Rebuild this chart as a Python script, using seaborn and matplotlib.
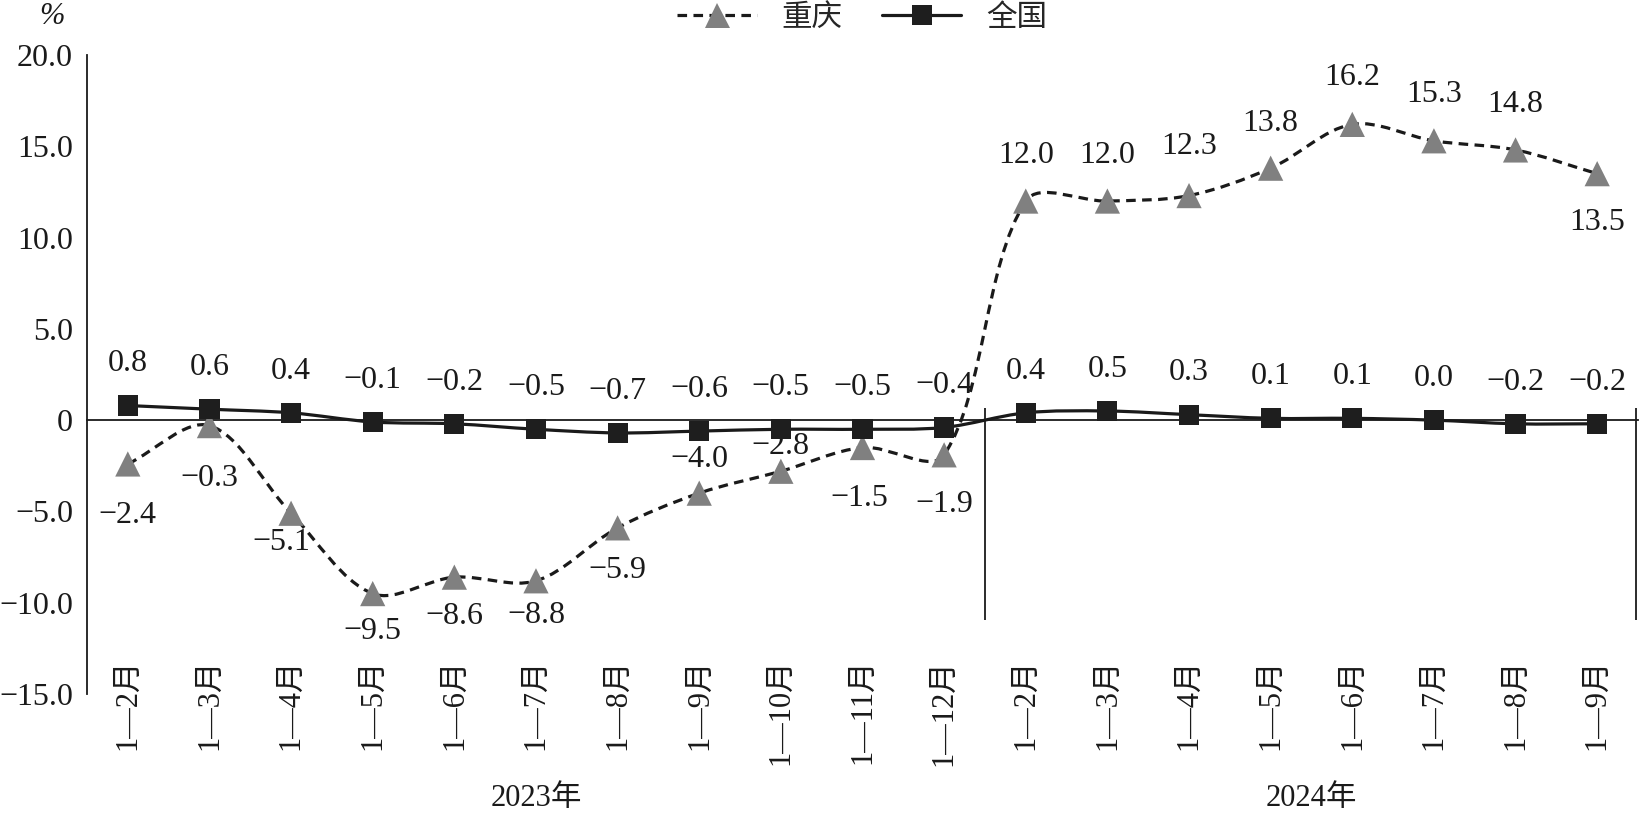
import matplotlib
matplotlib.use("Agg")
import matplotlib.pyplot as plt
import seaborn as sns
import pandas as pd
import numpy as np
from matplotlib.path import Path
from matplotlib.patches import PathPatch
from matplotlib.lines import Line2D
from matplotlib.transforms import blended_transform_factory

# data
months = ["1—2月", "1—3月", "1—4月", "1—5月", "1—6月", "1—7月", "1—8月", "1—9月",
          "1—10月", "1—11月", "1—12月",
          "1—2月", "1—3月", "1—4月", "1—5月", "1—6月", "1—7月", "1—8月", "1—9月"]
years = ["2023年", "2024年"]
chongqing = [-2.4, -0.3, -5.1, -9.5, -8.6, -8.8, -5.9, -4.0, -2.8, -1.5, -1.9,
             12.0, 12.0, 12.3, 13.8, 16.2, 15.3, 14.8, 13.5]
national = [0.8, 0.6, 0.4, -0.1, -0.2, -0.5, -0.7, -0.6, -0.5, -0.5, -0.4,
            0.4, 0.5, 0.3, 0.1, 0.1, 0.0, -0.2, -0.2]
yticks = [20, 15, 10, 5, 0, -5, -10, -15]

# label offsets in points (layout only)
cq_dy = [-37, -38, -21, -27, -28, -25, -31, 24, 18, -37, -36, 33, 33, 35, 32, 34, 33, 33, -35]
cq_dx = [0, 0, -7, 0, 0, 0, 0, 0, 0, -2, 0, 0, 0, 0, 0, 0, 0, 0, 0]
nat_dy = 30

sns.set_style("white")
plt.rcParams['font.family'] = ['Liberation Serif', 'Noto Sans CJK SC']
plt.rcParams['axes.unicode_minus'] = True

x = np.arange(len(months))
df = pd.DataFrame({"x": np.concatenate([x, x]),
                   "value": chongqing + national,
                   "series": ["重庆"] * len(x) + ["全国"] * len(x)})

fig = plt.figure(figsize=(16.39, 8.15), dpi=100)
ax = fig.add_axes([87 / 1639, 1 - 694 / 815, 1551 / 1639, 639 / 815])
ax.set_xlim(-0.5, 18.5)
ax.set_ylim(-15, 20)

# pixel size of one data unit, so the smoothing behaves like a spreadsheet curve
SX = 1551 / 19.0
SY = 639 / 35.0


def smooth_path(xs, ys, f=1 / 3):
    # cardinal-like spline with tangents split by neighbouring segment lengths
    pts = np.column_stack([np.asarray(xs, float) * SX, np.asarray(ys, float) * SY])
    n = len(pts)
    c_in = pts.copy()
    c_out = pts.copy()
    for i in range(n):
        p_prev = pts[i - 1] if i > 0 else pts[i]
        p_next = pts[i + 1] if i < n - 1 else pts[i]
        d0 = np.hypot(*(pts[i] - p_prev))
        d1 = np.hypot(*(p_next - pts[i]))
        if d0 + d1 == 0:
            continue
        t = p_next - p_prev
        c_out[i] = pts[i] + t * f * d1 / (d0 + d1)
        c_in[i] = pts[i] - t * f * d0 / (d0 + d1)
    verts = [pts[0]]
    codes = [Path.MOVETO]
    for i in range(n - 1):
        verts += [c_out[i], c_in[i + 1], pts[i + 1]]
        codes += [Path.CURVE4] * 3
    verts = np.array(verts) / np.array([SX, SY])
    return Path(verts, codes)


ax.add_patch(PathPatch(smooth_path(x, national), fill=False, edgecolor="#1a1a1a",
                       lw=2.3, zorder=3))
ax.add_patch(PathPatch(smooth_path(x, chongqing), fill=False, edgecolor="#1a1a1a",
                       lw=2.3, linestyle=(0, (3.0, 2.0)), zorder=3))

sns.scatterplot(data=df, x="x", y="value", hue="series", style="series",
                markers={"重庆": "^", "全国": "s"},
                palette={"重庆": "#808080", "全国": "#1e1e1e"},
                size="series", sizes={"重庆": 330, "全国": 210},
                linewidth=0, legend=False, ax=ax, zorder=4)

for i, v in enumerate(chongqing):
    ax.annotate(f"{v:.1f}".replace("-", "\u2212"), (x[i], v),
                xytext=(cq_dx[i], cq_dy[i]), textcoords="offset points",
                ha="center", va="center", fontsize=23, color="#1a1a1a")
for i, v in enumerate(national):
    ax.annotate(f"{v:.1f}".replace("-", "\u2212"), (x[i], v),
                xytext=(0, nat_dy), textcoords="offset points",
                ha="center", va="center", fontsize=23, color="#1a1a1a")

ax.set_xlim(-0.5, 18.5)
ax.set_ylim(-15, 20)
ax.set_xlabel("")
ax.set_ylabel("")

ax.set_yticks(yticks)
ax.set_yticklabels([("0" if t == 0 else f"{t:.1f}").replace("-", "\u2212") for t in yticks],
                   fontsize=23)
ax.tick_params(axis="y", direction="in", length=9, width=1.2, pad=10, colors="#1a1a1a")

# x axis at zero with small upward ticks between categories
for s in ["top", "right"]:
    ax.spines[s].set_visible(False)
ax.spines["bottom"].set_position(("data", 0))
ax.spines["left"].set_linewidth(1.3)
ax.spines["bottom"].set_linewidth(1.3)
ax.spines["left"].set_color("#1a1a1a")
ax.spines["bottom"].set_color("#1a1a1a")
ax.set_xticks(x)
ax.set_xticklabels([])
ax.set_xticks(np.arange(0.5, 18, 1), minor=True)
ax.tick_params(axis="x", which="major", length=0)
ax.tick_params(axis="x", which="minor", direction="in", length=8.6, width=1.2,
               colors="#1a1a1a")

ax.vlines([10.5, 18.47], -10.95, 0.66, colors="#1a1a1a", lw=1.3, clip_on=False)

trans = blended_transform_factory(ax.transData, ax.transAxes)
for i, m in enumerate(months):
    ax.text(x[i], 0.055, m, rotation=90, ha="center", va="top", fontsize=22,
            transform=trans, color="#1a1a1a")
ax.text(5, -0.163, years[0], ha="center", va="center", fontsize=22,
        transform=trans, color="#1a1a1a")
ax.text(14.5, -0.163, years[1], ha="center", va="center", fontsize=22,
        transform=trans, color="#1a1a1a")

fig.text(52 / 1639, 1 - 16 / 815, "%", ha="center", va="center", fontsize=22,
         style="italic", color="#1a1a1a")

handles = [
    Line2D([], [], color="#1a1a1a", lw=2.3, linestyle=(0, (3.0, 2.0)),
           marker="^", markersize=18, markerfacecolor="#808080",
           markeredgewidth=0),
    Line2D([], [], color="#1a1a1a", lw=2.3, marker="s", markersize=14.5,
           markerfacecolor="#1e1e1e", markeredgewidth=0),
]
fig.legend(handles, ["重庆", "全国"], loc="center", bbox_to_anchor=(862 / 1639, 1 - 18 / 815),
           ncol=2, frameon=False, fontsize=22, handlelength=2.6, handletextpad=0.8,
           columnspacing=1.3, numpoints=1)

fig.savefig("out.png", dpi=100)
